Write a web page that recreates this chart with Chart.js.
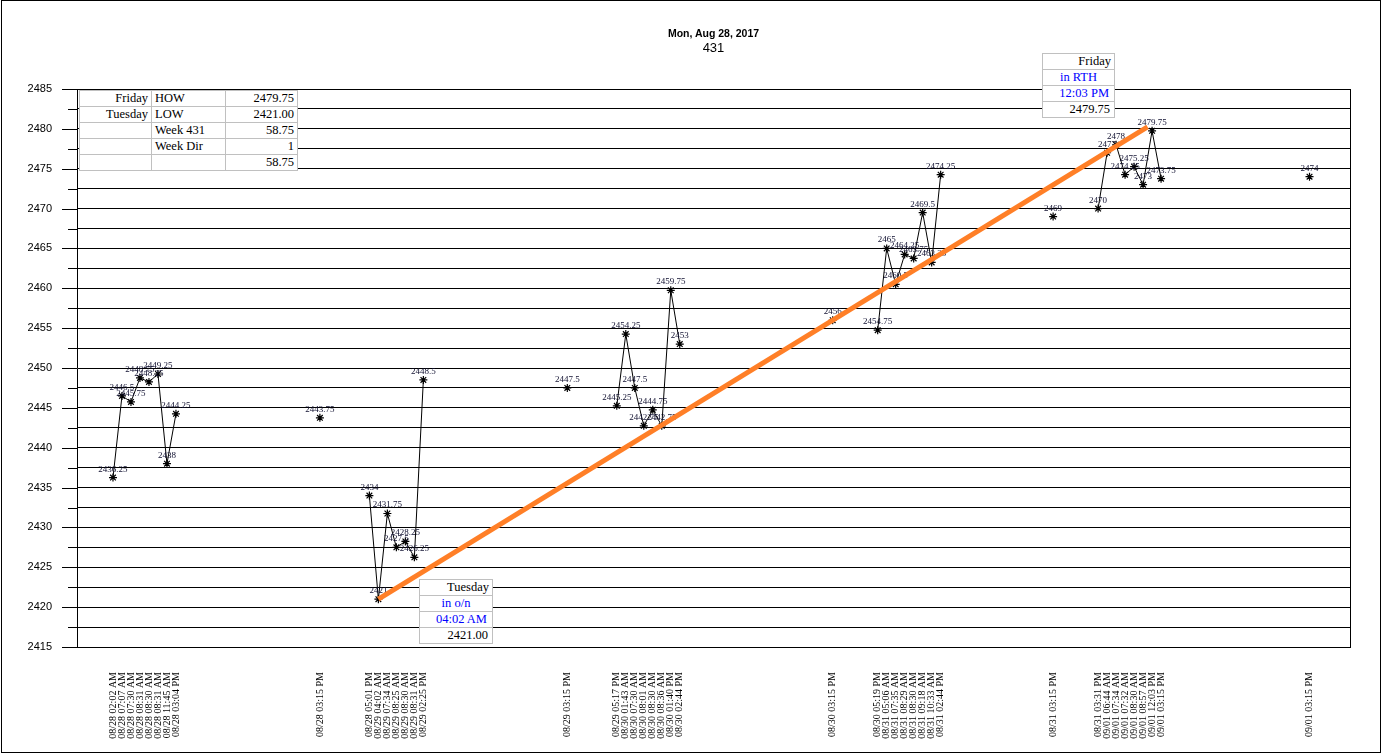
<!DOCTYPE html>
<html>
<head>
<meta charset="utf-8">
<script src="https://cdn.jsdelivr.net/npm/chart.js@4.4.1/dist/chart.umd.min.js"></script>
<style>
  html, body { margin: 0; padding: 0; background: #fff; }
  #wrap { position: relative; width: 1382px; height: 754px; overflow: hidden; }
  #chart { position: absolute; left: 0; top: 0; }
  #frame { position: absolute; left: 1px; top: 0; width: 1378px; height: 751px; border: 1px solid #000; pointer-events: none; }
  .t1 { position: absolute; left: 77px; width: 1273px; top: 27px; line-height: 12px; text-align: center;
        font: bold 10.5px "Liberation Sans", Arial, sans-serif; }
  .t2 { position: absolute; left: 77px; width: 1273px; top: 40px; line-height: 15px; text-align: center;
        font: 13px "Liberation Sans", Arial, sans-serif; }
  table.box { position: absolute; border-collapse: collapse; background: #fff; table-layout: fixed;
              font: 12.5px "Liberation Serif", "Times New Roman", serif; color: #000; }
  table.box td { border: 1px solid #c0c0c0; height: 15px; line-height: 15px; padding: 0 3px; white-space: nowrap; overflow: hidden; }
  .r { text-align: right; }
  .l { text-align: left; }
  .c { text-align: center; }
  .blue { color: #0000ff; }
</style>
</head>
<body>
<div id="wrap">
  <canvas id="chart" width="1382" height="754"></canvas>
  <div class="t1">Mon, Aug 28, 2017</div>
  <div class="t2">431</div>
  <table class="box" id="summary" style="left:79px; top:90px; width:218px;"></table>
  <table class="box" id="highBox" style="left:1042px; top:53px; width:73px;"></table>
  <table class="box" id="lowBox" style="left:419px; top:579px; width:74px;"></table>
  <div id="frame"></div>
</div>
<script>
// bar times shown on the x axis
const times = [
  '08/28 02:02 AM', '08/28 07:07 AM', '08/28 07:30 AM', '08/28 08:31 AM',
  '08/28 08:30 AM', '08/28 08:31 AM', '08/28 11:45 AM', '08/28 03:04 PM',
  '08/28 03:15 PM',
  '08/28 05:01 PM', '08/29 04:02 AM', '08/29 07:34 AM', '08/29 08:25 AM',
  '08/29 08:30 AM', '08/29 08:31 AM', '08/29 02:25 PM',
  '08/29 03:15 PM',
  '08/29 05:17 PM', '08/30 01:43 AM', '08/30 07:30 AM', '08/30 08:01 AM',
  '08/30 08:30 AM', '08/30 08:36 AM', '08/30 01:40 PM', '08/30 02:44 PM',
  '08/30 03:15 PM',
  '08/30 05:19 PM', '08/31 05:06 AM', '08/31 07:35 AM', '08/31 08:29 AM',
  '08/31 08:30 AM', '08/31 09:18 AM', '08/31 10:33 AM', '08/31 02:44 PM',
  '08/31 03:15 PM',
  '08/31 03:31 PM', '09/01 06:44 AM', '09/01 07:34 AM', '09/01 07:32 AM',
  '09/01 08:30 AM', '09/01 08:57 AM', '09/01 12:03 PM', '09/01 03:15 PM',
  '09/01 03:15 PM'
];

const prices = [
  2436.25, 2446.5, 2445.75, 2448.75, 2448.25, 2449.25, 2438, 2444.25,
  2443.75,
  2434, 2421, 2431.75, 2427.5, 2428.25, 2426.25, 2448.5,
  2447.5,
  2445.25, 2454.25, 2447.5, 2442.75, 2444.75, 2442.75, 2459.75, 2453,
  2456,
  2454.75, 2465, 2460.5, 2464.25, 2463.75, 2469.5, 2463.25, 2474.25,
  2469,
  2470, 2477, 2478, 2474.25, 2475.25, 2473, 2479.75, 2473.75,
  2474
];

// slot of each bar along the x axis (bars in a session are 2 slots apart)
const slots = [
  8, 10, 12, 14, 16, 18, 20, 22,
  54,
  65, 67, 69, 71, 73, 75, 77,
  109,
  120, 122, 124, 126, 128, 130, 132, 134,
  168,
  178, 180, 182, 184, 186, 188, 190, 192,
  217,
  227, 229, 231, 233, 235, 237, 239, 241,
  274
];
const slotMax = 283;

// low-to-high week line
const trendSlots = [67, 238];
const trendValues = [2421, 2480.25];

const yMin = 2415;
const yMax = 2485;
const yStep = 2.5;

const summaryRows = [
  ['Friday', 'HOW', '2479.75'],
  ['Tuesday', 'LOW', '2421.00'],
  ['', 'Week 431', '58.75'],
  ['', 'Week Dir', '1'],
  ['', '', '58.75']
];
const highRows = ['Friday', 'in RTH', '12:03 PM', '2479.75'];
const lowRows = ['Tuesday', 'in o/n', '04:02 AM', '2421.00'];

// ---- tables
document.getElementById('summary').innerHTML =
  '<colgroup><col style="width:72px"><col style="width:74px"><col style="width:72px"></colgroup>' +
  summaryRows.map(r => '<tr><td class="r">' + r[0] + '</td><td class="l">' + r[1] +
    '</td><td class="r">' + r[2] + '</td></tr>').join('');

function boxHtml(rows) {
  return '<tr><td class="r">' + rows[0] + '</td></tr>' +
    '<tr><td class="c blue">' + rows[1] + '</td></tr>' +
    '<tr><td class="r blue" style="padding-right:5px">' + rows[2] + '</td></tr>' +
    '<tr><td class="r" style="padding-right:4px">' + rows[3] + '</td></tr>';
}
document.getElementById('highBox').innerHTML = boxHtml(highRows);
document.getElementById('lowBox').innerHTML = boxHtml(lowRows);

// ---- chart data built from the arrays
const priceData = slots.map((s, i) => ({ x: s, y: prices[i] }));
const trendData = trendSlots.map((s, i) => ({ x: s, y: trendValues[i] }));

const valueLabels = {
  id: 'valueLabels',
  afterDatasetDraw(chart, args) {
    if (args.index !== 1) return;
    const ctx = chart.ctx;
    ctx.save();
    ctx.font = '9px "Liberation Serif", "Times New Roman", serif';
    ctx.fillStyle = '#101030';
    ctx.textAlign = 'center';
    ctx.textBaseline = 'alphabetic';
    args.meta.data.forEach((pt, i) => {
      ctx.fillText(String(prices[i]), pt.x, pt.y - 6);
    });
    ctx.restore();
  }
};

const axisStubs = {
  id: 'axisStubs',
  afterDraw(chart) {
    const { ctx, chartArea } = chart;
    const y = chart.scales.y;
    ctx.save();
    ctx.strokeStyle = '#000';
    ctx.lineWidth = 1;
    y.ticks.forEach(t => {
      const py = Math.round(y.getPixelForValue(t.value)) + 0.5;
      const len = t.value % 5 === 0 ? 15 : 9;
      ctx.beginPath();
      ctx.moveTo(chartArea.left - len, py);
      ctx.lineTo(chartArea.left, py);
      ctx.stroke();
    });
    const rx = Math.round(chartArea.right) + 0.5;
    ctx.beginPath();
    ctx.moveTo(rx, chartArea.top);
    ctx.lineTo(rx, chartArea.bottom);
    ctx.stroke();
    ctx.restore();
  }
};

new Chart(document.getElementById('chart'), {
  type: 'line',
  data: {
    datasets: [
      {
        label: 'trend',
        data: trendData,
        borderColor: '#ff7f27',
        borderWidth: 5,
        pointRadius: 0
      },
      {
        label: '431',
        data: priceData,
        borderColor: '#000',
        borderWidth: 1,
        pointStyle: 'star',
        pointRadius: 4,
        pointBorderColor: '#000',
        pointBorderWidth: 1.2,
        spanGaps: 2 // only bars of one session are joined
      }
    ]
  },
  options: {
    responsive: false,
    animation: false,
    layout: { padding: { left: 0, right: 32, top: 89, bottom: 0 } },
    plugins: {
      legend: { display: false },
      tooltip: { enabled: false },
      title: { display: false }
    },
    scales: {
      x: {
        type: 'linear',
        min: 0,
        max: slotMax,
        afterFit: s => { s.height = 107; },
        afterBuildTicks: s => { s.ticks = slots.map(v => ({ value: v })); },
        grid: { display: false },
        border: { display: true, color: '#000', width: 1 },
        ticks: {
          autoSkip: false,
          maxRotation: 90,
          minRotation: 90,
          padding: 17,
          color: '#000',
          font: { family: '"Liberation Serif", "Times New Roman", serif', size: 10 },
          callback: (v, i) => times[i]
        }
      },
      y: {
        min: yMin,
        max: yMax,
        afterFit: s => { s.width = 77; },
        grid: { color: '#000', lineWidth: 1, drawTicks: false },
        border: { display: true, color: '#000', width: 1 },
        ticks: {
          stepSize: yStep,
          autoSkip: false,
          padding: 25,
          color: '#000',
          font: { family: '"Liberation Sans", Arial, sans-serif', size: 11 },
          callback: v => (v % 5 === 0 ? String(v) : '')
        }
      }
    }
  },
  plugins: [valueLabels, axisStubs]
});
</script>
</body>
</html>
